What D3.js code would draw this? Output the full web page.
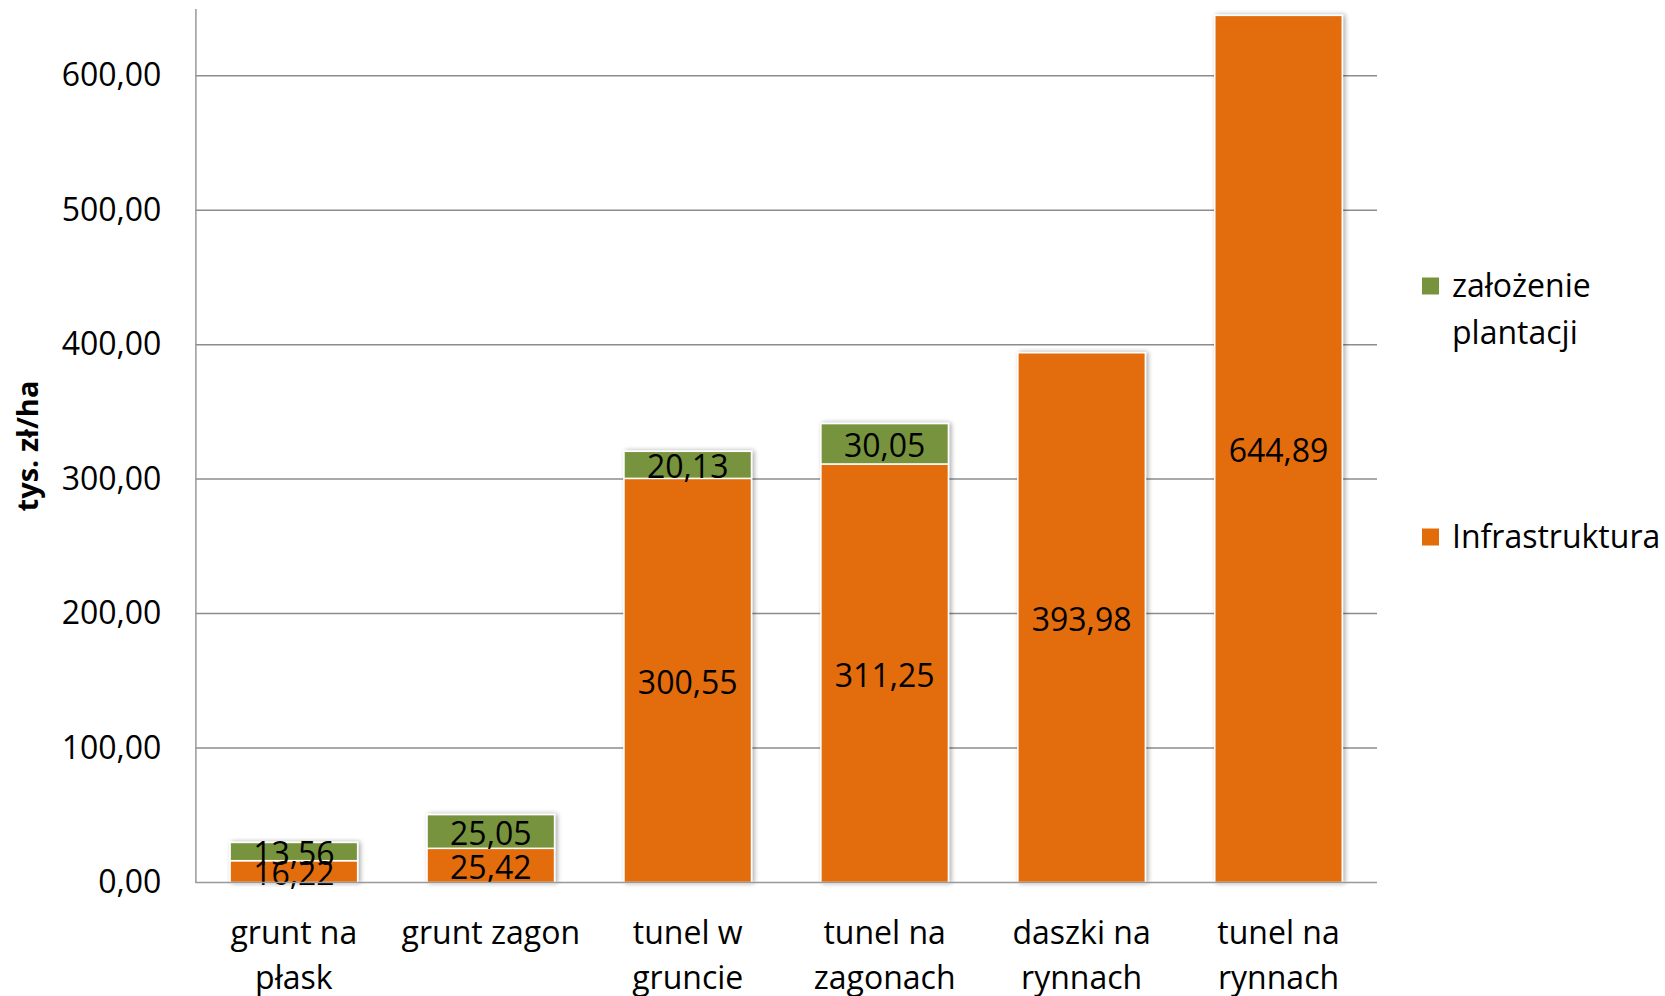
<!DOCTYPE html>
<html>
<head>
<meta charset="utf-8">
<script src="https://cdn.jsdelivr.net/npm/d3@7"></script>
<style>
  body { margin: 0; background: #fff; }
  text { font-family: "Open Sans", sans-serif; fill: #000; }
</style>
</head>
<body>
<script>
// chart data
var categories = ["grunt na\npłask", "grunt zagon", "tunel w\ngruncie", "tunel na\nzagonach", "daszki na\nrynnach", "tunel na\nrynnach"];
var infrastruktura = [16.22, 25.42, 300.55, 311.25, 393.98, 644.89];
var zalozenie = [13.56, 25.05, 20.13, 30.05, 0, 0];
var yTicks = [0, 100, 200, 300, 400, 500, 600];
var seriesNames = ["Infrastruktura", "założenie plantacji"];
var seriesColors = ["#e36c0a", "#77933c"];

var width = 1665, height = 996;
var margin = {left: 195.4, right: 288, top: 8.5, bottom: 113.5};

var rows = categories.map(function(c, i) {
  return {cat: c, infra: infrastruktura[i], zal: zalozenie[i]};
});

var pl = d3.formatLocale({decimal: ",", thousands: " ", grouping: [3], currency: ["", " zł"]});
var fmt = pl.format(".2f");

var svg = d3.select("body").append("svg")
    .attr("width", width)
    .attr("height", height);

// soft shadow round the bars
var defs = svg.append("defs");
var f = defs.append("filter").attr("id", "shadow")
    .attr("x", "-10%").attr("y", "-10%").attr("width", "120%").attr("height", "120%");
f.append("feGaussianBlur").attr("in", "SourceAlpha").attr("stdDeviation", 2.5);
f.append("feOffset").attr("dx", 1.5).attr("dy", 0).attr("result", "off");
f.append("feComponentTransfer").call(function(s) {
  s.append("feFuncA").attr("type", "linear").attr("slope", 0.35);
});
var m = f.append("feMerge");
m.append("feMergeNode");
m.append("feMergeNode").attr("in", "SourceGraphic");

var x = d3.scaleBand()
    .domain(categories)
    .range([margin.left, width - margin.right])
    .paddingInner(0.3525)
    .paddingOuter(0.3525 / 2);

var y = d3.scaleLinear()
    .domain([0, 650])
    .range([height - margin.bottom, margin.top]);

// gridlines
svg.append("g")
  .selectAll("line")
  .data(yTicks.filter(function(t) { return t > 0; }))
  .enter().append("line")
    .attr("x1", margin.left)
    .attr("x2", width - margin.right)
    .attr("y1", function(d) { return y(d); })
    .attr("y2", function(d) { return y(d); })
    .attr("stroke", "#8c8c8c")
    .attr("stroke-width", 1.5);

// y axis
var yAxis = svg.append("g")
    .attr("transform", "translate(" + margin.left + ",0)")
    .call(d3.axisLeft(y).tickValues(yTicks).tickFormat(fmt).tickSize(0).tickPadding(34));
yAxis.select(".domain").attr("stroke", "#999").attr("stroke-width", 1.5);
yAxis.selectAll("text")
    .style("font-size", "32px")
    .style("font-family", "'Open Sans', sans-serif")
    .attr("fill", "#000");

// stacked bars
var stack = d3.stack().keys(["infra", "zal"]);
var layers = stack(rows);

var bars = svg.append("g").selectAll("g.bar")
  .data(rows)
  .enter().append("g")
    .attr("class", "bar")
    .attr("filter", "url(#shadow)");

bars.selectAll("rect")
  .data(function(d, i) { return layers.map(function(l, k) { return {seg: l[i], k: k, cat: d.cat}; }); })
  .enter().filter(function(d) { return d.seg[1] - d.seg[0] > 0; })
  .append("rect")
    .attr("x", function(d) { return x(d.cat); })
    .attr("width", x.bandwidth())
    .attr("y", function(d) { return y(d.seg[1]); })
    .attr("height", function(d) { return y(d.seg[0]) - y(d.seg[1]); })
    .attr("fill", function(d) { return seriesColors[d.k]; })
    .attr("stroke", "#fff")
    .attr("stroke-width", 1.5);

// data labels, centred in each segment
var labels = [];
layers.forEach(function(l, k) {
  l.forEach(function(s, i) {
    if (s[1] - s[0] > 0) labels.push({cat: categories[i], v: s[1] - s[0], mid: (s[0] + s[1]) / 2});
  });
});
svg.append("g").selectAll("text")
  .data(labels)
  .enter().append("text")
    .attr("x", function(d) { return x(d.cat) + x.bandwidth() / 2; })
    .attr("y", function(d) { return y(d.mid); })
    .attr("dy", "0.42em")
    .attr("text-anchor", "middle")
    .style("font-size", "32px")
    .text(function(d) { return fmt(d.v); });

// x axis line
svg.append("line")
    .attr("x1", margin.left).attr("x2", width - margin.right)
    .attr("y1", y(0)).attr("y2", y(0))
    .attr("stroke", "#999").attr("stroke-width", 1.5);

// category labels
var cl = svg.append("g").selectAll("text")
  .data(categories)
  .enter().append("text")
    .attr("x", function(d) { return x(d) + x.bandwidth() / 2; })
    .attr("y", 944)
    .attr("text-anchor", "middle")
    .style("font-size", "32px");
cl.selectAll("tspan")
  .data(function(d) { return d.split("\n"); })
  .enter().append("tspan")
    .attr("x", function() { return d3.select(this.parentNode).attr("x"); })
    .attr("dy", function(d, i) { return i ? 45 : 0; })
    .text(function(d) { return d; });

// y title
svg.append("text")
    .attr("transform", "translate(38,446) rotate(-90)")
    .attr("text-anchor", "middle")
    .style("font-size", "29px")
    .style("font-weight", "bold")
    .text("tys. zł/ha");

// legend (top series first)
var legend = [
  {lines: ["założenie", "plantacji"], color: seriesColors[1], cy: 286},
  {lines: ["Infrastruktura"], color: seriesColors[0], cy: 537}
];
var lg = svg.append("g").selectAll("g")
  .data(legend)
  .enter().append("g");
lg.append("rect")
    .attr("x", 1422).attr("y", function(d) { return d.cy - 8.5; })
    .attr("width", 17).attr("height", 17)
    .attr("fill", function(d) { return d.color; });
lg.append("text")
    .attr("x", 1452)
    .attr("y", function(d) { return d.cy + 11; })
    .style("font-size", "32px")
    .selectAll("tspan")
    .data(function(d) { return d.lines; })
    .enter().append("tspan")
      .attr("x", 1452)
      .attr("dy", function(d, i) { return i ? 47 : 0; })
      .text(function(d) { return d; });
</script>
</body>
</html>
